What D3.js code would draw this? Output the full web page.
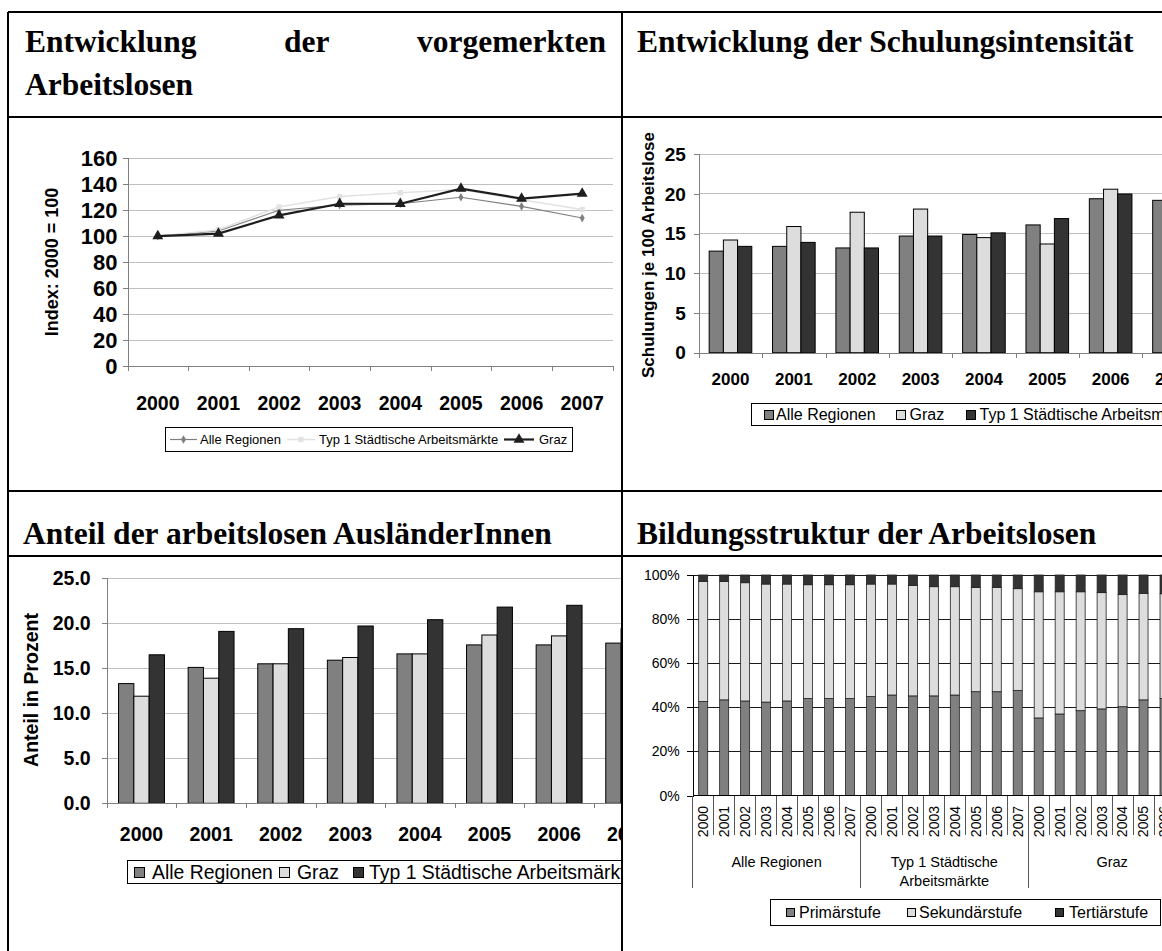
<!DOCTYPE html>
<meta charset="utf-8">
<style>
  body { margin: 0; background: #fff; }
  svg text { font-family: "Liberation Sans", Arial, sans-serif; fill: #000; }
  .head { font-family: "Liberation Serif", "Times New Roman", serif !important; font-weight: bold; font-size: 31.5px; }
  .crisp { shape-rendering: crispEdges; }
</style>
<body>
<div id="canvas"></div>
<script src="https://d3js.org/d3.v7.min.js"></script>
<script>

// ---- data ----
var years = ["2000", "2001", "2002", "2003", "2004", "2005", "2006", "2007"];

// Entwicklung der vorgemerkten Arbeitslosen (Index 2000 = 100)
var idxAlle = [100, 104, 120, 124, 125, 130, 123, 114];
var idxTyp1 = [100, 105, 122.5, 130.5, 133.5, 136, 128, 120.5];
var idxGraz = [100, 102, 116, 125, 125, 136.6, 129, 132.8];
var lineSeries = ["Alle Regionen", "Typ 1 Städtische Arbeitsmärkte", "Graz"];

// Schulungen je 100 Arbeitslose
var schulAlle = [12.8, 13.4, 13.2, 14.7, 14.9, 16.1, 19.4, 19.2];
var schulGraz = [14.2, 15.9, 17.7, 18.1, 14.5, 13.7, 20.6, 20.2];
var schulTyp1 = [13.4, 13.9, 13.2, 14.7, 15.1, 16.9, 20.0, 19.6];

// Anteil der arbeitslosen AuslaenderInnen (Prozent)
var auslAlle = [13.3, 15.1, 15.5, 15.9, 16.6, 17.6, 17.6, 17.8];
var auslGraz = [11.9, 13.9, 15.5, 16.2, 16.6, 18.7, 18.6, 19.4];
var auslTyp1 = [16.5, 19.1, 19.4, 19.7, 20.4, 21.8, 22.0, 22.4];
var barSeries = ["Alle Regionen", "Graz", "Typ 1 Städtische Arbeitsmärkte"];

// Bildungsstruktur (Anteile in %), je Region 2000-2007
var groupLines = [["Alle Regionen"], ["Typ 1 Städtische", "Arbeitsmärkte"], ["Graz"]];
var primaer = [42.7, 43.4, 42.9, 42.4, 42.9, 44.0, 44.0, 44.0,
               44.9, 45.6, 45.2, 45.2, 45.6, 47.1, 47.1, 47.6,
               35.2, 37.0, 38.5, 39.3, 40.3, 43.4, 44.0, 44.5];
var sekundaer = [54.4, 53.7, 53.6, 53.5, 53.0, 51.6, 51.6, 51.6,
                 51.0, 50.3, 50.1, 49.5, 49.1, 47.2, 47.3, 46.2,
                 57.2, 55.4, 53.9, 52.7, 50.8, 48.3, 47.5, 47.0];
var tertiaer = [2.9, 2.9, 3.5, 4.1, 4.1, 4.4, 4.4, 4.4,
                4.1, 4.1, 4.7, 5.3, 5.3, 5.7, 5.6, 6.2,
                7.6, 7.6, 7.6, 8.0, 8.9, 8.3, 8.5, 8.5];
var stufen = ["Primärstufe", "Sekundärstufe", "Tertiärstufe"];

var headings = ["Entwicklung der vorgemerkten Arbeitslosen", "Entwicklung der Schulungsintensität",
                "Anteil der arbeitslosen AusländerInnen", "Bildungsstruktur der Arbeitslosen"];

var grey = "#808080", light = "#dddddd", dark = "#333333";

// ---- page ----
var svg = d3.select("#canvas").append("svg")
    .attr("width", 1162).attr("height", 951)
    .style("display", "block").style("background", "#fff");
var defs = svg.append("defs");
function clip(id, x, y, w, h) {
  defs.append("clipPath").attr("id", id).append("rect")
    .attr("x", x).attr("y", y).attr("width", w).attr("height", h);
  return "url(#" + id + ")";
}

// table lines
var tbl = svg.append("g").attr("stroke", "#000").attr("stroke-width", 2.5).attr("class", "crisp");
[[8, 12, 1162, 12], [8, 12, 8, 951], [622, 12, 622, 951], [8, 117, 1162, 117],
 [8, 491, 1162, 491], [8, 556, 1162, 556]].forEach(function(l) {
  tbl.append("line").attr("x1", l[0]).attr("y1", l[1]).attr("x2", l[2]).attr("y2", l[3]);
});

// headings (first one justified over two lines)
var words = headings[0].split(" ");
var w0 = svg.append("text").attr("class", "head").attr("x", 25).attr("y", 52).text(words[0]);
var w1 = svg.append("text").attr("class", "head").attr("y", 52).text(words[1]);
var w2 = svg.append("text").attr("class", "head").attr("y", 52).text(words[2]);
var l0 = w0.node().getComputedTextLength(), l1 = w1.node().getComputedTextLength(), l2 = w2.node().getComputedTextLength();
var gap = (606 - 25 - l0 - l1 - l2) / 2;
w1.attr("x", 25 + l0 + gap);
w2.attr("x", 606 - l2);
svg.append("text").attr("class", "head").attr("x", 25).attr("y", 95).text(words[3]);
svg.append("text").attr("class", "head").attr("x", 637).attr("y", 52).text(headings[1]);
svg.append("text").attr("class", "head").attr("x", 23).attr("y", 544).text(headings[2]);
svg.append("text").attr("class", "head").attr("x", 637).attr("y", 544).text(headings[3]);

function styleAxis(g, size, weight, col) {
  g.attr("font-size", null).attr("font-family", null).attr("class", "crisp");
  g.select(".domain").attr("stroke", col);
  g.selectAll(".tick line").attr("stroke", col);
  g.selectAll(".tick text").attr("font-size", size).attr("font-weight", weight).attr("fill", "#000");
}

// ================= chart 1: line chart =================
var c1 = svg.append("g").attr("clip-path", clip("c1", 10, 119, 611, 371));
var x1 = d3.scaleBand().domain(years).range([127.5, 612.5]);
var y1 = d3.scaleLinear().domain([0, 160]).range([366, 158.3]);

c1.append("g").attr("class", "crisp").selectAll("line")
  .data(d3.range(20, 161, 20)).join("line")
    .attr("x1", 127.5).attr("x2", 612.5)
    .attr("y1", function(d) { return y1(d); }).attr("y2", function(d) { return y1(d); })
    .attr("stroke", "#c0c0c0");

c1.append("g").attr("transform", "translate(127.5,0)")
  .call(d3.axisLeft(y1).tickValues(d3.range(0, 161, 20)).tickSize(5).tickPadding(5))
  .call(function(g) { styleAxis(g, 22, "bold", "#808080"); });

var b1 = d3.scaleLinear().domain([0, 8]).range([127.5, 612.5]);
c1.append("g").attr("transform", "translate(0,366)")
  .call(d3.axisBottom(b1).tickValues(d3.range(9)).tickSize(5).tickFormat(""))
  .call(function(g) { styleAxis(g, 10, "normal", "#808080"); });
c1.append("g").attr("transform", "translate(0,366)")
  .call(d3.axisBottom(x1).tickSize(0).tickPadding(30))
  .call(function(g) { styleAxis(g, 19.5, "bold", "#808080"); g.select(".domain").remove(); });

c1.append("text").attr("transform", "translate(52,262) rotate(-90)")
  .attr("text-anchor", "middle").attr("dy", "0.35em")
  .attr("font-size", 18).attr("font-weight", "bold").text("Index: 2000 = 100");

var lineGen = d3.line()
  .x(function(d, i) { return x1(years[i]) + x1.bandwidth() / 2; })
  .y(function(d) { return y1(d); });

var lineDefs = [
  { data: idxAlle, color: grey, width: 1.2, sym: d3.symbolDiamond, size: 22 },
  { data: idxTyp1, color: "#e2e2e2", width: 1.5, sym: d3.symbolSquare, size: 28 },
  { data: idxGraz, color: "#1e1e1e", width: 2.2, sym: d3.symbolTriangle, size: 52 }
];
lineDefs.forEach(function(s) {
  c1.append("path").datum(s.data).attr("d", lineGen)
    .attr("fill", "none").attr("stroke", s.color).attr("stroke-width", s.width);
  c1.append("g").selectAll("path").data(s.data).join("path")
    .attr("d", d3.symbol().type(s.sym).size(s.size))
    .attr("transform", function(d, i) {
      return "translate(" + (x1(years[i]) + x1.bandwidth() / 2) + "," + y1(d) + ")";
    })
    .attr("fill", s.color);
});

// legend chart 1
var lg1 = c1.append("g");
lg1.append("rect").attr("x", 165.5).attr("y", 427.5).attr("width", 407).attr("height", 24)
  .attr("fill", "#fff").attr("stroke", "#000").attr("class", "crisp");
var lg1x = [[170, 197, 200], [287, 315, 319], [504, 534, 539]];
lineDefs.forEach(function(s, i) {
  var p = lg1x[i];
  lg1.append("line").attr("x1", p[0]).attr("x2", p[1]).attr("y1", 439.5).attr("y2", 439.5)
    .attr("stroke", s.color).attr("stroke-width", s.width);
  lg1.append("path").attr("d", d3.symbol().type(s.sym).size(s.size)())
    .attr("transform", "translate(" + ((p[0] + p[1]) / 2) + ",439.5)").attr("fill", s.color);
  lg1.append("text").attr("x", p[2]).attr("y", 439.5).attr("dy", "0.35em")
    .attr("font-size", 13).text(lineSeries[i]);
});

// ================= bar chart helper =================
function barChart(g, cfg) {
  var x = d3.scaleBand().domain(years).range([cfg.x0, cfg.x0 + cfg.step * years.length]);
  var y = d3.scaleLinear().domain([0, 25]).range([cfg.yb, cfg.yt]);
  var xs = d3.scaleBand().domain(barSeries).range([0, x.bandwidth()]).paddingOuter(cfg.pad);

  g.append("g").attr("class", "crisp").selectAll("line")
    .data(y.ticks(5).filter(function(d) { return d > 0; })).join("line")
      .attr("x1", cfg.x0).attr("x2", cfg.x0 + cfg.step * years.length)
      .attr("y1", function(d) { return y(d); }).attr("y2", function(d) { return y(d); })
      .attr("stroke", "#c0c0c0");

  var series = [cfg.data[0], cfg.data[1], cfg.data[2]];
  var colors = [grey, light, dark];
  series.forEach(function(vals, si) {
    g.append("g").selectAll("rect").data(vals).join("rect")
      .attr("x", function(d, i) { return x(years[i]) + xs(barSeries[si]); })
      .attr("width", xs.bandwidth())
      .attr("y", function(d) { return y(d); })
      .attr("height", function(d) { return cfg.yb - y(d); })
      .attr("fill", colors[si]).attr("stroke", "#000").attr("stroke-width", 1);
  });

  g.append("g").attr("transform", "translate(" + cfg.x0 + ",0)")
    .call(d3.axisLeft(y).ticks(5).tickFormat(d3.format(cfg.fmt)).tickSize(5).tickPadding(cfg.ypad))
    .call(function(a) { styleAxis(a, cfg.yfont, "bold", "#808080"); });

  var b = d3.scaleLinear().domain([0, 8]).range([cfg.x0, cfg.x0 + cfg.step * 8]);
  g.append("g").attr("transform", "translate(0," + cfg.yb + ")")
    .call(d3.axisBottom(b).tickValues(d3.range(9)).tickSize(5).tickFormat(""))
    .call(function(a) { styleAxis(a, 10, "normal", "#808080"); });
  g.append("g").attr("transform", "translate(0," + cfg.yb + ")")
    .call(d3.axisBottom(x).tickSize(0).tickPadding(cfg.xpad))
    .call(function(a) { styleAxis(a, cfg.xfont, "bold", "#808080"); a.select(".domain").remove(); });

  g.append("text").attr("transform", "translate(" + cfg.tx + "," + cfg.ty + ") rotate(-90)")
    .attr("text-anchor", "middle").attr("dy", "0.35em")
    .attr("font-size", cfg.tfont).attr("font-weight", "bold").text(cfg.title);

  // legend
  var L = cfg.legend;
  var lg = g.append("g");
  lg.append("rect").attr("x", L.x).attr("y", L.y).attr("width", L.w).attr("height", L.h)
    .attr("fill", "#fff").attr("stroke", "#000").attr("class", "crisp");
  barSeries.forEach(function(name, i) {
    lg.append("rect").attr("x", L.sq[i]).attr("y", Math.round(L.y + L.h / 2 - L.s / 2))
      .attr("width", L.s).attr("height", L.s)
      .attr("fill", colors[i]).attr("stroke", "#000").attr("class", "crisp");
    lg.append("text").attr("x", L.tx[i]).attr("y", L.y + L.h / 2).attr("dy", "0.35em")
      .attr("font-size", L.font).text(name);
  });
}

// ================= chart 2 =================
var c2 = svg.append("g").attr("clip-path", clip("c2", 624, 119, 538, 371));
barChart(c2, {
  x0: 698.8, step: 63.36, yb: 352.7, yt: 154.3, pad: 0.73, fmt: "d",
  data: [schulAlle, schulGraz, schulTyp1],
  yfont: 19, ypad: 8, xfont: 17, xpad: 20,
  tx: 648.5, ty: 255, tfont: 17, title: "Schulungen je 100 Arbeitslose",
  legend: { x: 751.5, y: 403.5, w: 440, h: 22, s: 9, font: 16,
            sq: [764, 896.5, 966.5], tx: [776, 909.5, 979.5] }
});

// ================= chart 3 =================
var c3 = svg.append("g").attr("clip-path", clip("c3", 10, 558, 611, 393));
barChart(c3, {
  x0: 106.7, step: 69.6, yb: 803.3, yt: 578.3, pad: 0.775, fmt: ".1f",
  data: [auslAlle, auslGraz, auslTyp1],
  yfont: 19.5, ypad: 11, xfont: 19.5, xpad: 24,
  tx: 31, ty: 690, tfont: 19.5, title: "Anteil in Prozent",
  legend: { x: 127.5, y: 860.5, w: 560, h: 23, s: 10, font: 19.4,
            sq: [134, 279.5, 353], tx: [152, 297, 369] }
});

// ================= chart 4: 100% stacked =================
var c4 = svg.append("g").attr("clip-path", clip("c4", 624, 558, 538, 393));
var slots = d3.range(primaer.length);
var x4 = d3.scaleBand().domain(slots).range([692.7, 692.7 + 20.97 * slots.length]);
var y4 = d3.scaleLinear().domain([0, 100]).range([795.6, 575]);
var bw4 = x4.bandwidth() * 0.43;

c4.append("g").attr("class", "crisp").selectAll("line")
  .data(d3.range(20, 101, 20)).join("line")
    .attr("x1", 692.7).attr("x2", 692.7 + 20.97 * slots.length)
    .attr("y1", function(d) { return y4(d); }).attr("y2", function(d) { return y4(d); })
    .attr("stroke", "#1a1a1a");

var stackRows = slots.map(function(i) {
  return { "Primärstufe": primaer[i], "Sekundärstufe": sekundaer[i], "Tertiärstufe": tertiaer[i] };
});
var stacked = d3.stack().keys(stufen).offset(d3.stackOffsetExpand)(stackRows);
var colors4 = [grey, light, dark];
stacked.forEach(function(layer, li) {
  c4.append("g").selectAll("rect").data(layer).join("rect")
    .attr("x", function(d, i) { return x4(i) + (x4.bandwidth() - bw4) / 2; })
    .attr("width", bw4)
    .attr("y", function(d) { return y4(d[1] * 100); })
    .attr("height", function(d) { return y4(d[0] * 100) - y4(d[1] * 100); })
    .attr("fill", colors4[li]).attr("stroke", "#222").attr("stroke-width", 0.8);
});

c4.append("g").attr("transform", "translate(692.7,0)")
  .call(d3.axisLeft(y4).tickValues(d3.range(0, 101, 20))
    .tickFormat(function(d) { return d + "%"; }).tickSize(6).tickPadding(7))
  .call(function(g) { styleAxis(g, 14, "normal", "#000"); });

c4.append("line").attr("class", "crisp").attr("x1", 692.7).attr("x2", 692.7 + 20.97 * slots.length)
  .attr("y1", 795.6).attr("y2", 795.6).attr("stroke", "#000");
c4.append("g").attr("class", "crisp").selectAll("line")
  .data(d3.range(slots.length + 1)).join("line")
    .attr("x1", function(i) { return 692.7 + 20.97 * i; })
    .attr("x2", function(i) { return 692.7 + 20.97 * i; })
    .attr("y1", 795.6)
    .attr("y2", function(i) { return i % 8 === 0 ? 888 : 835; })
    .attr("stroke", "#555");
c4.append("g").selectAll("text").data(slots).join("text")
  .attr("transform", function(i) {
    return "translate(" + (x4(i) + x4.bandwidth() / 2) + ",806) rotate(-90)";
  })
  .attr("text-anchor", "end").attr("dy", "0.35em").attr("font-size", 14)
  .text(function(i) { return years[i % 8]; });
groupLines.forEach(function(lines, gi) {
  var cx = x4(gi * 8) + 4 * x4.bandwidth();
  lines.forEach(function(t, li) {
    c4.append("text").attr("x", cx).attr("y", 862 + li * 18.5).attr("dy", "0.35em")
      .attr("text-anchor", "middle").attr("font-size", 14.5).text(t);
  });
});

var lg4 = c4.append("g");
lg4.append("rect").attr("x", 770.5).attr("y", 899.5).attr("width", 390).attr("height", 26)
  .attr("fill", "#fff").attr("stroke", "#000").attr("class", "crisp");
var lg4sq = [786, 907, 1055], lg4tx = [799, 919, 1069];
stufen.forEach(function(name, i) {
  lg4.append("rect").attr("x", lg4sq[i]).attr("y", 908).attr("width", 8).attr("height", 8)
    .attr("fill", colors4[i]).attr("stroke", "#000").attr("class", "crisp");
  lg4.append("text").attr("x", lg4tx[i]).attr("y", 912.5).attr("dy", "0.35em")
    .attr("font-size", 16).text(name);
});

</script>
</body>
